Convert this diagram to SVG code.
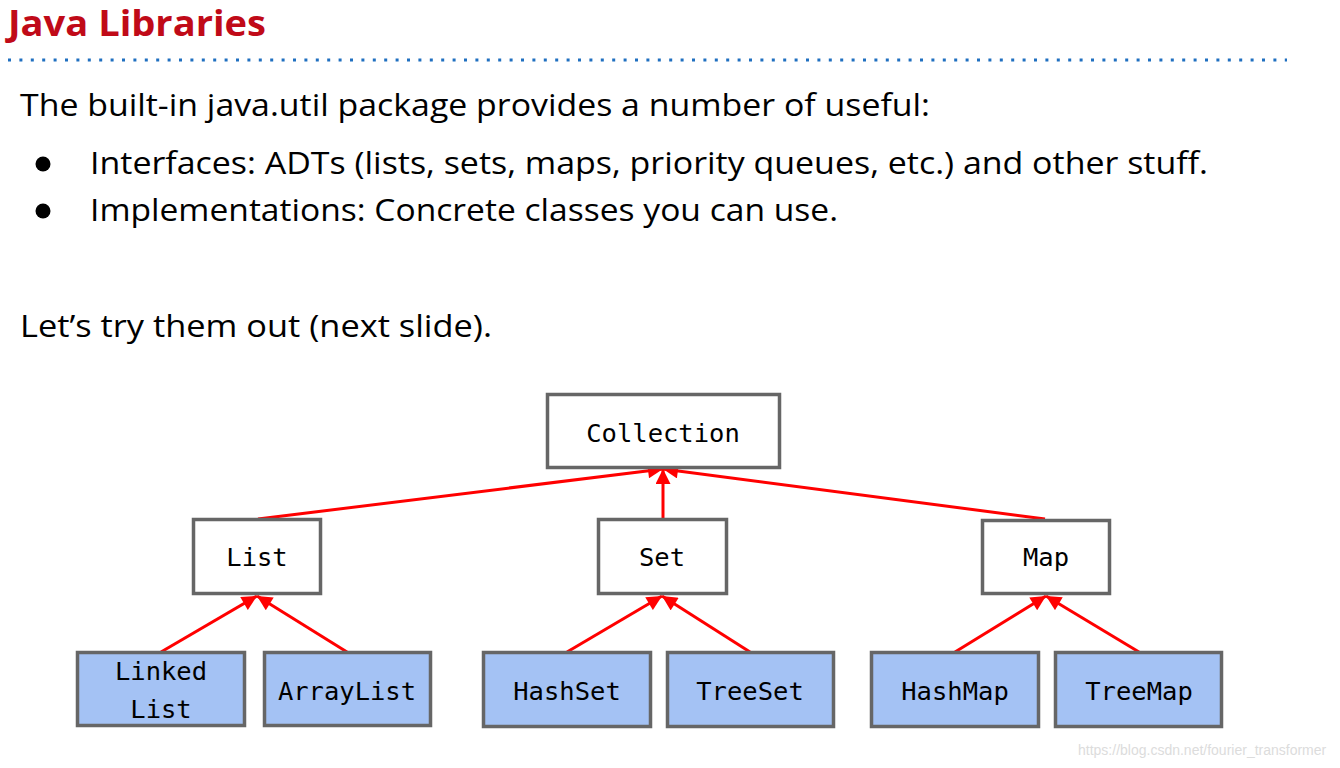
<svg xmlns="http://www.w3.org/2000/svg" width="1340" height="768" viewBox="0 0 1340 768">
<defs>
<style>
.title{font-family:"Open Sans","Noto Sans",sans-serif;font-weight:bold;font-size:36px;fill:#C00A18}
.body{font-family:"Open Sans","Noto Sans",sans-serif;font-size:31px;fill:#000}
.box{fill:#fff;stroke:#666;stroke-width:3.5}
.impl{fill:#A4C2F4;stroke:#666;stroke-width:3.5}
.lbl{font-family:"DejaVu Sans Mono","Liberation Mono",monospace;font-size:25.5px;fill:#000;text-anchor:middle}
.edge{stroke:#FF0000;stroke-width:3;fill:none;marker-end:url(#ah)}
.wm{font-family:"Liberation Sans",Arial,sans-serif;font-size:14px;fill:#dcdcdc}
</style>
<marker id="ah" viewBox="0 0 10 10" refX="10" refY="5" markerWidth="5.5" markerHeight="5" orient="auto" markerUnits="strokeWidth">
<path d="M0,0 L10,5 L0,10 Z" fill="#FF0000"/>
</marker>
</defs>
<rect width="1340" height="768" fill="#fff"/>
<text class="title" x="8" y="36" textLength="258" lengthAdjust="spacingAndGlyphs">Java Libraries</text>
<line x1="8" y1="60" x2="1287" y2="60" stroke="#1F6FC0" stroke-width="3" stroke-dasharray="3 8.4"/>
<text class="body" x="20" y="116" textLength="910" lengthAdjust="spacingAndGlyphs">The built-in java.util package provides a number of useful:</text>
<circle cx="43" cy="164" r="7.5" fill="#000"/>
<text class="body" x="90" y="174" textLength="1118" lengthAdjust="spacingAndGlyphs">Interfaces: ADTs (lists, sets, maps, priority queues, etc.) and other stuff.</text>
<circle cx="43" cy="211" r="7.5" fill="#000"/>
<text class="body" x="90" y="221" textLength="748" lengthAdjust="spacingAndGlyphs">Implementations: Concrete classes you can use.</text>
<text class="body" x="20" y="337" textLength="472" lengthAdjust="spacingAndGlyphs">Let’s try them out (next slide).</text>

<g id="connectors">
<line class="edge" x1="258" y1="519" x2="663" y2="469"/>
<line class="edge" x1="663" y1="519" x2="663" y2="469"/>
<line class="edge" x1="1045" y1="519" x2="663" y2="469"/>
<line class="edge" x1="161" y1="652" x2="257" y2="596"/>
<line class="edge" x1="347" y1="652" x2="257" y2="596"/>
<line class="edge" x1="567" y1="652" x2="662" y2="596"/>
<line class="edge" x1="750" y1="652" x2="662" y2="596"/>
<line class="edge" x1="955" y1="652" x2="1046" y2="596"/>
<line class="edge" x1="1139" y1="652" x2="1046" y2="596"/>
</g>

<g id="collection"><rect class="box" x="547.5" y="394.5" width="232" height="73"/><text class="lbl" x="663" y="442">Collection</text></g>
<g id="list"><rect class="box" x="193.5" y="519.5" width="127" height="74"/><text class="lbl" x="257" y="566">List</text></g>
<g id="set"><rect class="box" x="598.5" y="519.5" width="128" height="74"/><text class="lbl" x="662" y="566">Set</text></g>
<g id="map"><rect class="box" x="982.5" y="520.5" width="127" height="73"/><text class="lbl" x="1046" y="566">Map</text></g>
<g id="linkedlist"><rect class="impl" x="77.5" y="652.5" width="167" height="73"/><text class="lbl" x="161" y="680">Linked</text><text class="lbl" x="161" y="718">List</text></g>
<g id="arraylist"><rect class="impl" x="264.5" y="652.5" width="166" height="73"/><text class="lbl" x="347" y="700">ArrayList</text></g>
<g id="hashset"><rect class="impl" x="483.5" y="652.5" width="167" height="74"/><text class="lbl" x="567" y="700">HashSet</text></g>
<g id="treeset"><rect class="impl" x="667.5" y="652.5" width="166" height="74"/><text class="lbl" x="750" y="700">TreeSet</text></g>
<g id="hashmap"><rect class="impl" x="871.5" y="652.5" width="167" height="74"/><text class="lbl" x="955" y="700">HashMap</text></g>
<g id="treemap"><rect class="impl" x="1055.5" y="652.5" width="166" height="74"/><text class="lbl" x="1139" y="700">TreeMap</text></g>

<text class="wm" x="1078" y="755">https://blog.csdn.net/fourier_transformer</text>
</svg>
